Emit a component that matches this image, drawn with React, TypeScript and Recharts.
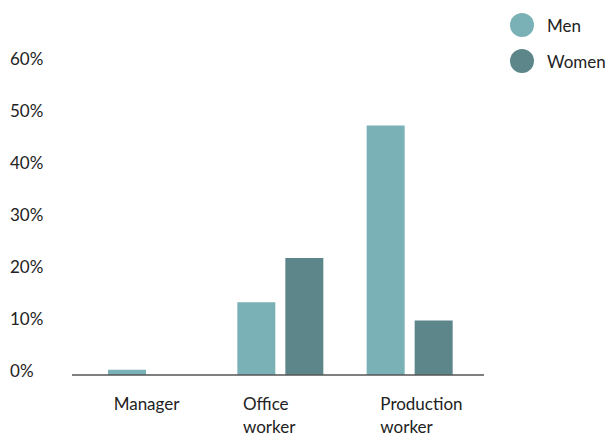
import React from 'react';
import { BarChart, Bar, XAxis, YAxis } from 'recharts';

const CATEGORIES = ['Manager', 'Office worker', 'Production worker'];
const MEN = [1, 14, 48];
const WOMEN = [0, 22.5, 10.5];
const Y_TICKS = [0, 10, 20, 30, 40, 50, 60];

const MEN_COLOR = '#7ab1b6';
const WOMEN_COLOR = '#5c868a';
const TEXT_COLOR = '#222';
const FONT = 'Lato, "Noto Sans", sans-serif';

const data = CATEGORIES.map((name, i) => ({ name, men: MEN[i], women: WOMEN[i] }));

// left edge of each category label, relative to its band centre
const TICK_DX = [-37, -37, -29];

function XTick(props: any) {
  const { x, y, payload, index } = props;
  const lines = String(payload.value).split(' ');
  const lx = x + (TICK_DX[index] ?? -36);
  return (
    <text x={lx} y={y} fill={TEXT_COLOR} fontSize={17} fontFamily={FONT} textAnchor="start">
      {lines.map((l, i) => (
        <tspan key={i} x={lx} dy={i === 0 ? 27 : 23}>
          {l}
        </tspan>
      ))}
    </text>
  );
}

function YTick(props: any) {
  const { y, payload } = props;
  return (
    <text x={10} y={y} dy={2} fill={TEXT_COLOR} fontSize={17} fontFamily={FONT} textAnchor="start">
      {payload.value}%
    </text>
  );
}

function ChartLegend() {
  const items = [
    { label: 'Men', color: MEN_COLOR },
    { label: 'Women', color: WOMEN_COLOR },
  ];
  return (
    <div
      style={{
        position: 'absolute',
        left: 510,
        top: 7,
        fontFamily: FONT,
        fontSize: 17,
        color: TEXT_COLOR,
      }}
    >
      {items.map((it) => (
        <div key={it.label} style={{ display: 'flex', alignItems: 'center', height: 36 }}>
          <span
            style={{
              width: 24,
              height: 24,
              borderRadius: '50%',
              background: it.color,
              display: 'inline-block',
              marginRight: 13,
            }}
          />
          {it.label}
        </div>
      ))}
    </div>
  );
}

export default function App() {
  return (
    <div style={{ position: 'fixed', left: 0, top: 0, width: 609, height: 434, background: '#fff' }}>
      <BarChart
        width={609}
        height={434}
        data={data}
        margin={{ top: 63, right: 125, left: 0, bottom: 0 }}
        barSize={38}
        barGap={10}
      >
        <XAxis
          dataKey="name"
          axisLine={{ stroke: '#555', strokeWidth: 1.5 }}
          tickLine={false}
          tick={<XTick />}
          interval={0}
          padding={{ left: 14, right: 10 }}
          height={59}
        />
        <YAxis
          width={72}
          domain={[0, 60]}
          ticks={Y_TICKS}
          axisLine={false}
          tickLine={false}
          tick={<YTick />}
        />
        <Bar dataKey="men" fill={MEN_COLOR} isAnimationActive={false} />
        <Bar dataKey="women" fill={WOMEN_COLOR} isAnimationActive={false} />
      </BarChart>
      <ChartLegend />
    </div>
  );
}
